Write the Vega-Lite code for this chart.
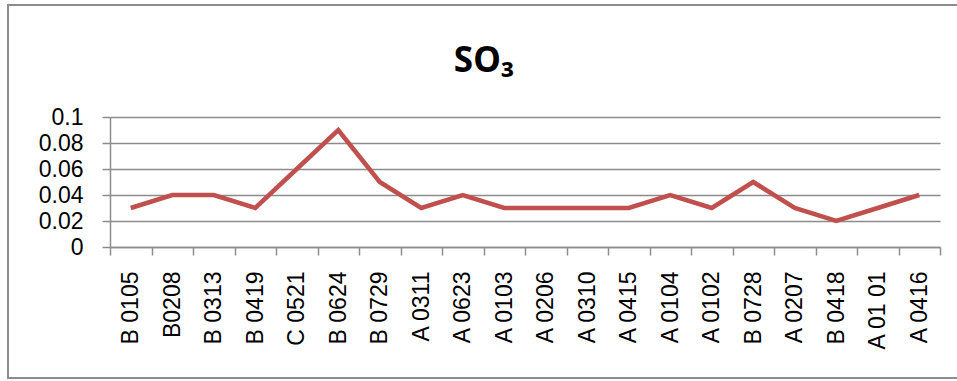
{
  "$schema": "https://vega.github.io/schema/vega-lite/v6.json",
  "width": 830,
  "height": 130,
  "autosize": {"type": "none"},
  "padding": {"left": 110, "top": 117, "right": 17, "bottom": 134},
  "background": "white",
  "title": {
    "text": "SO₃",
    "font": "Noto Sans",
    "fontSize": 35,
    "fontWeight": "bold",
    "color": "#000000",
    "anchor": "middle",
    "frame": "group",
    "baseline": "alphabetic",
    "dx": -41,
    "offset": -103
  },
  "config": {
    "view": {"stroke": null},
    "axis": {
      "labelFont": "Liberation Sans",
      "labelFontSize": 23,
      "labelColor": "#000000",
      "domainColor": "#8c8c8c",
      "domainWidth": 1.5,
      "tickColor": "#8c8c8c",
      "tickWidth": 1.5,
      "tickSize": 8,
      "gridColor": "#8c8c8c",
      "gridWidth": 1.5
    }
  },
  "layer": [
    {
      "data": {"values": [{}]},
      "mark": {"type": "rect", "fill": null, "stroke": "#8c8c8c", "strokeWidth": 2},
      "encoding": {
        "x": {"value": -102},
        "x2": {"value": 852},
        "y": {"value": -112},
        "y2": {"value": 261}
      }
    },
    {
      "data": {
        "values": [
          {"sample": "B 0105", "so3": 0.03},
          {"sample": "B0208", "so3": 0.04},
          {"sample": "B 0313", "so3": 0.04},
          {"sample": "B 0419", "so3": 0.03},
          {"sample": "C 0521", "so3": 0.06},
          {"sample": "B 0624", "so3": 0.09},
          {"sample": "B 0729", "so3": 0.05},
          {"sample": "A 0311", "so3": 0.03},
          {"sample": "A 0623", "so3": 0.04},
          {"sample": "A 0103", "so3": 0.03},
          {"sample": "A 0206", "so3": 0.03},
          {"sample": "A 0310", "so3": 0.03},
          {"sample": "A 0415", "so3": 0.03},
          {"sample": "A 0104", "so3": 0.04},
          {"sample": "A 0102", "so3": 0.03},
          {"sample": "B 0728", "so3": 0.05},
          {"sample": "A 0207", "so3": 0.03},
          {"sample": "B 0418", "so3": 0.02},
          {"sample": "A 01 01", "so3": 0.03},
          {"sample": "A 0416", "so3": 0.04}
        ]
      },
      "mark": {"type": "line", "color": "#C0504D", "strokeWidth": 4.5, "strokeJoin": "miter"},
      "encoding": {
        "x": {
          "field": "sample",
          "type": "nominal",
          "sort": null,
          "bandPosition": 0.5,
          "scale": {"type": "band", "paddingInner": 0, "paddingOuter": 0},
          "axis": {
            "title": null,
            "labelAngle": -90,
            "labelPadding": 16,
            "tickBand": "extent",
            "grid": false
          }
        },
        "y": {
          "field": "so3",
          "type": "quantitative",
          "scale": {"domain": [0, 0.1], "nice": false},
          "axis": {
            "title": null,
            "values": [0, 0.02, 0.04, 0.06, 0.08, 0.1],
            "format": "~g",
            "labelPadding": 19,
            "grid": true
          }
        }
      }
    }
  ]
}
